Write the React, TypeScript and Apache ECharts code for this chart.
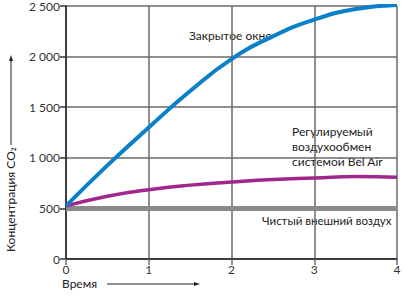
import React, { useEffect, useRef } from "react";
import * as echarts from "echarts";

const xTicks = [0, 1, 2, 3, 4];
const yTicks = [0, 500, 1000, 1500, 2000, 2500];
const times = [0, 0.5, 1, 1.5, 2, 2.5, 3, 3.5, 4];
const closedWindow = [525, 925, 1300, 1660, 1975, 2200, 2365, 2470, 2510];
const belAir = [525, 620, 685, 730, 760, 785, 800, 815, 808];
const outdoor = [500, 500, 500, 500, 500, 500, 500, 500, 500];

const FONT = "Lato, 'Noto Sans', sans-serif";
const GRID = "#6a6a6a";

export default function App() {
  const ref = useRef<HTMLDivElement>(null);
  useEffect(() => {
    const chart = echarts.init(ref.current!, null, { renderer: "svg" });
    const pair = (ys: number[]) => times.map((t, i) => [t, ys[i]]);
    chart.setOption({
      animation: false,
      grid: { left: 66, right: 7, top: 6, bottom: 37 },
      xAxis: {
        type: "value",
        min: 0,
        max: 4,
        interval: 1,
        axisLine: { show: true, lineStyle: { color: "#222", width: 1.5 } },
        axisTick: { show: true, length: 6, lineStyle: { color: GRID, width: 1.5 } },
        axisLabel: { color: "#333", fontSize: 12, fontFamily: FONT, margin: 4, formatter: (v: number) => String(v) },
        splitLine: { show: true, lineStyle: { color: GRID, width: 1.5 } },
      },
      yAxis: {
        type: "value",
        min: 0,
        max: 2500,
        interval: 500,
        axisLine: { show: true, lineStyle: { color: "#222", width: 1.5 } },
        axisTick: { show: true, length: 6, lineStyle: { color: "#333", width: 1.5 } },
        axisLabel: {
          color: "#333",
          fontSize: 12,
          fontFamily: FONT,
          margin: 6,
          formatter: (v: number) => (v >= 1000 ? Math.floor(v / 1000) + " " + String(v % 1000).padStart(3, "0") : String(v)),
        },
        splitLine: { show: true, lineStyle: { color: GRID, width: 1.5 } },
      },
      series: [
        {
          type: "line",
          data: pair(outdoor),
          showSymbol: false,
          lineStyle: { color: "#8a8a8a", width: 5 },
          z: 3,
        },
        {
          type: "line",
          data: pair(belAir),
          smooth: true,
          showSymbol: false,
          lineStyle: { color: "#a0288c", width: 3.5 },
          z: 4,
        },
        {
          type: "line",
          data: pair(closedWindow),
          smooth: true,
          showSymbol: false,
          lineStyle: { color: "#0a80c8", width: 4 },
          z: 5,
        },
      ],
      graphic: [
        { type: "text", left: 189, top: 29, style: { text: "Закрытое окно", fontSize: 12, fontFamily: FONT, fill: "#222" } },
        {
          type: "text",
          left: 292,
          top: 124,
          style: { text: "Регулируемый\nвоздухообмен\nсистемой Bel Air", fontSize: 12, lineHeight: 15, fontFamily: FONT, fill: "#222" },
        },
        { type: "text", left: 262, top: 214, style: { text: "Чистый внешний воздух", fontSize: 11.5, fontFamily: FONT, fill: "#222" } },
        { type: "text", left: 62, top: 277, style: { text: "Время", fontSize: 12, fontFamily: FONT, fill: "#222" } },
        { type: "line", shape: { x1: 107, y1: 284, x2: 197, y2: 284 }, style: { stroke: "#222", lineWidth: 1 } },
        { type: "polygon", shape: { points: [[200, 284], [194, 282], [194, 286]] }, style: { fill: "#222" } },
        {
          type: "text",
          x: 4,
          y: 252,
          rotation: Math.PI / 2,
          style: { text: "Концентрация CO₂", fontSize: 12, fontFamily: FONT, fill: "#222", align: "left", verticalAlign: "top" },
        },
        { type: "line", shape: { x1: 11, y1: 145, x2: 11, y2: 59 }, style: { stroke: "#222", lineWidth: 1 } },
        { type: "polygon", shape: { points: [[11, 55], [9, 61], [13, 61]] }, style: { fill: "#222" } },
      ],
    });
    return () => chart.dispose();
  }, []);
  return <div ref={ref} style={{ width: 404, height: 296, position: "absolute", left: 0, top: 0 }} />;
}
